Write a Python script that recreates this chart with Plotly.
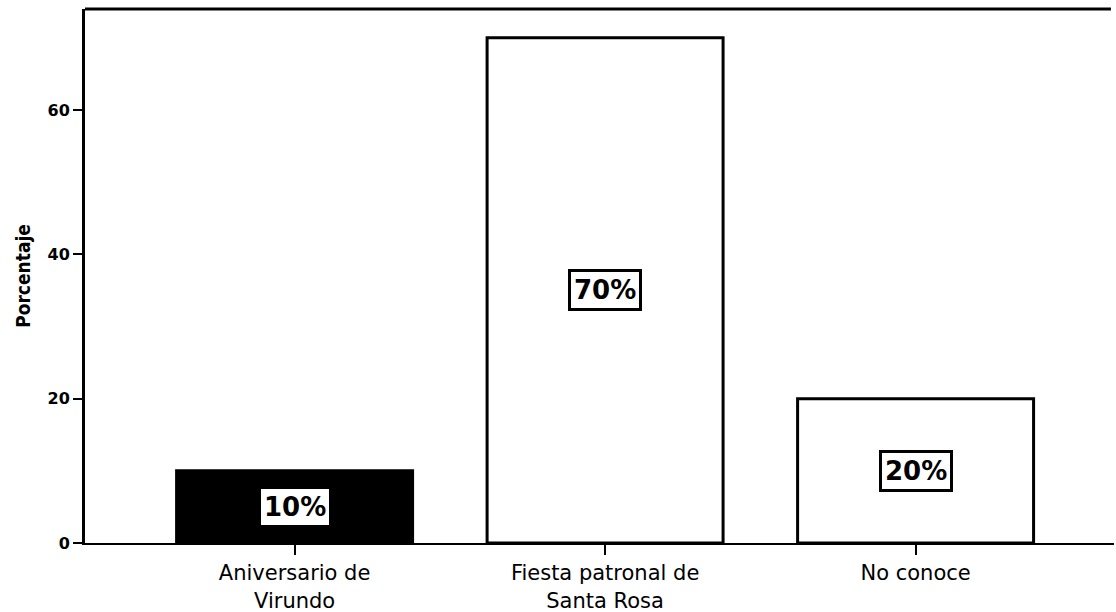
import plotly.graph_objects as go

# Data
categories = ["Aniversario de Virundo", "Fiesta patronal de Santa Rosa", "No conoce"]
tick_labels = ["Aniversario de<br>Virundo", "Fiesta patronal de<br>Santa Rosa", "No conoce"]
percentages = [10, 70, 20]
bar_fills = ["black", "white", "white"]
y_ticks = [0, 20, 40, 60]

W, H = 1116, 612
M_L, M_R, M_T, M_B = 85, 2, 9, 69

fig = go.Figure()
fig.add_trace(go.Bar(
    x=categories,
    y=percentages,
    width=0.76,
    marker=dict(color=bar_fills, line=dict(color="black", width=3)),
    showlegend=False,
    hoverinfo="x+y",
))

annotations = []
# Boxed percentage labels in the middle of each bar
for cat, val in zip(categories, percentages):
    annotations.append(dict(
        x=cat, y=val / 2, xref="x", yref="y",
        text=f"{val}%", showarrow=False,
        font=dict(family="DejaVu Sans", size=26, color="black", weight="bold"),
        bgcolor="white", bordercolor="black", borderwidth=3, borderpad=3,
        xanchor="center", yanchor="middle",
    ))

fig.update_layout(
    width=W, height=H,
    margin=dict(l=M_L, r=M_R, t=M_T, b=M_B),
    paper_bgcolor="white", plot_bgcolor="white",
    bargap=0.24,
    annotations=annotations,
    shapes=[dict(type="line", xref="paper", yref="paper", x0=0, x1=0.997, y0=1, y1=1,
                 line=dict(color="black", width=3))],
)

fig.update_xaxes(
    range=[-0.675, 2.639],
    tickvals=categories, ticktext=tick_labels,
    tickfont=dict(family="DejaVu Sans", size=21, color="black"),
    showgrid=False, zeroline=False,
    showline=True, linecolor="black", linewidth=2,
    ticks="outside", ticklen=10, tickwidth=2, tickcolor="black",
    ticklabelstandoff=0, automargin=False,
)

fig.update_yaxes(
    range=[0, 74],
    tickvals=y_ticks, ticktext=[str(v) for v in y_ticks],
    showgrid=False, zeroline=False,
    showline=True, linecolor="black", linewidth=3,
    ticks="outside", ticklen=9, tickwidth=2, tickcolor="black",
    tickfont=dict(family="DejaVu Sans", size=16, color="black", weight="bold"),
    title=dict(text="Porcentaje", standoff=12,
               font=dict(family="DejaVu Sans Condensed", size=19, color="black", weight="bold")),
)

fig.write_html("out.html")
